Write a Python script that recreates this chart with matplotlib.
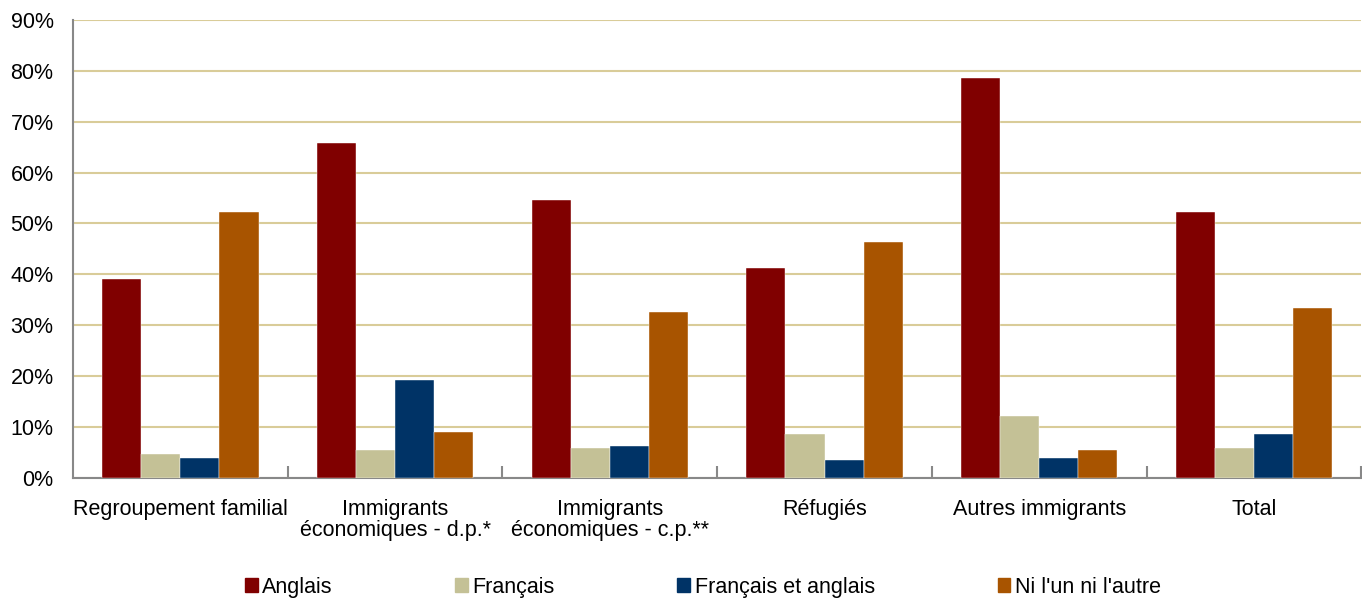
import numpy as np
import matplotlib.pyplot as plt
from matplotlib.patches import Patch
from matplotlib.ticker import FixedLocator, PercentFormatter

plt.rcParams['font.family'] = ['Liberation Sans', 'DejaVu Sans']

categories = ['Regroupement familial', 'Immigrants\néconomiques - d.p.*',
              'Immigrants\néconomiques - c.p.**', 'Réfugiés',
              'Autres immigrants', 'Total']
series_names = ['Anglais', 'Français', 'Français et anglais', "Ni l'un ni l'autre"]
anglais = [39.1, 65.8, 54.6, 41.2, 78.6, 52.2]
francais = [4.7, 5.5, 5.9, 8.6, 12.1, 5.9]
fr_et_ang = [3.9, 19.2, 6.2, 3.5, 3.9, 8.6]
ni_lun = [52.2, 9.0, 32.6, 46.4, 5.5, 33.4]
colors = ['#800000', '#C4C196', '#003366', '#A85400']

data = [anglais, francais, fr_et_ang, ni_lun]

fig = plt.figure(figsize=(13.62, 5.99), dpi=100)
ax = fig.add_axes([0.0536, 0.2025, 0.9459, 0.7641])

x = np.arange(len(categories))
w = 0.182
for k, vals in enumerate(data):
    ax.bar(x + (k - 1.5) * w, vals, width=w, color=colors[k], zorder=3,
           edgecolor='white', linewidth=0.3)

ax.set_xlim(-0.5, len(categories) - 0.5)
ax.set_ylim(0, 90)
ax.set_yticks(np.arange(0, 91, 10))
ax.yaxis.set_major_formatter(PercentFormatter(decimals=0))
ax.grid(axis='y', color='#D9CC99', linewidth=1.5, zorder=0)
ax.set_axisbelow(True)

fs = 15.5
ax.set_xticks(x)
ax.set_xticklabels(categories, fontsize=fs, linespacing=1.05)
ax.xaxis.set_minor_locator(FixedLocator(np.arange(0.5, len(categories), 1.0)))
ax.tick_params(axis='x', which='major', length=0, pad=15)
ax.tick_params(axis='x', which='minor', direction='in', length=9, width=1.5, color='#888888')
ax.tick_params(axis='y', length=0, labelsize=fs, pad=14)

for s in ['top', 'right']:
    ax.spines[s].set_visible(False)
for s in ['left', 'bottom']:
    ax.spines[s].set_color('#888888')
    ax.spines[s].set_linewidth(1.5)

handles = [Patch(color=c) for c in colors]
fig.legend(handles, series_names, loc='lower center', bbox_to_anchor=(0.516, -0.03),
           ncol=4, frameon=False, fontsize=fs, handlelength=0.6, handleheight=0.6,
           handletextpad=0.2, columnspacing=5.7)

fig.savefig('out.png', dpi=100)
